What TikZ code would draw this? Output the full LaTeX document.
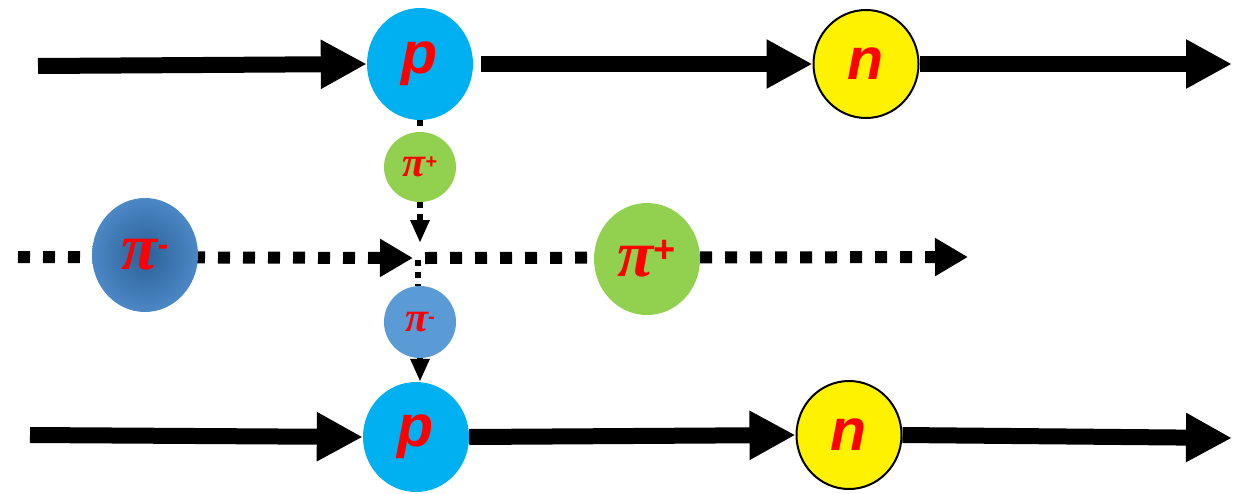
\documentclass[tikz,border=0pt]{standalone}
\usepackage{fontspec}
\setmainfont{Liberation Sans}
\newfontfamily\pifont{Liberation Serif}
\usetikzlibrary{arrows.meta,backgrounds,shapes.geometric}
\definecolor{pblue}{RGB}{0,176,240}
\definecolor{pigreen}{RGB}{146,208,80}
\definecolor{pismall}{RGB}{91,155,213}
\definecolor{piout}{RGB}{76,136,198}
\definecolor{piin}{RGB}{42,96,150}
\newcommand{\bigletter}[1]{\fontsize{59}{59}\selectfont\bfseries\itshape #1}
\newcommand{\pilab}[4]{{\fontsize{#1}{#1}\selectfont\pifont\bfseries\itshape π}\raisebox{#4}{\fontsize{#3}{#3}\selectfont\bfseries #2}}
\tikzset{
  ball/.style={ellipse,inner sep=0pt,text=red},
  solidarrow/.style={line width=16pt,-{Triangle[length=46pt,width=46pt]}},
  bigdots/.style={line width=12pt,dash pattern=on 12pt off 13pt},
  bigdotarrow/.style={bigdots,-{Triangle[length=33pt,width=36pt]}},
  smalldots/.style={line width=6pt,dash pattern=on 6pt off 6pt},
  smalldotarrow/.style={smalldots,-{Triangle[length=23pt,width=18pt]}}
}
\begin{document}
\begin{tikzpicture}[x=1pt,y=-1pt]
\useasboundingbox (0,0) rectangle (1233,493);
% nodes
\node[ball,fill=pblue,minimum width=106pt,minimum height=112pt] (p1) at (420,64) {\bigletter{p}};
\node[ball,fill=yellow,draw=black,line width=2pt,minimum width=105pt,minimum height=108pt] (n1) at (866,64) {\bigletter{n}};
\node[ball,fill=pblue,minimum width=106pt,minimum height=110pt] (p2) at (416,437) {\bigletter{p}};
\node[ball,fill=yellow,draw=black,line width=2pt,minimum width=105pt,minimum height=108pt] (n2) at (849,435) {\bigletter{n}};
\node[ball,fill=pigreen,minimum width=72pt,minimum height=70pt] (pis) at (420,167) {\pilab{42}{+}{20}{8pt}};
\node[ball,fill=pismall,minimum width=72pt,minimum height=72pt] (pim) at (420,322) {\pilab{42}{-}{20}{8pt}};
\node[ball,shading=radial,inner color=piin,outer color=piout,minimum width=106pt,minimum height=114pt] (pib) at (145,255) {\pilab{66}{-}{32}{14pt}};
\node[ball,fill=pigreen,minimum width=106pt,minimum height=112pt] (pig) at (647,259) {\pilab{66}{+}{38}{14pt}};
% free ends
\coordinate (s1) at (38,66);
\coordinate (e1) at (1232,64);
\coordinate (s2) at (30,435);
\coordinate (e2) at (1232,438);
\coordinate (h0) at (18,257);
\coordinate (hj) at (413,258);
\coordinate (h1) at (968,257);
\coordinate (vt) at (420,243);
\coordinate (vj) at (418,260);
% connectors
\begin{scope}[on background layer]
\draw[solidarrow] (s1) -- (p1.west);
\draw[solidarrow] ([xshift=8pt]p1.east) -- (n1.west);
\draw[solidarrow] (n1.east) -- (e1);
\draw[solidarrow] (s2) -- (p2.west);
\draw[solidarrow] (p2.east) -- (n2.west);
\draw[solidarrow] (n2.east) -- (e2);
\draw[bigdotarrow] (h0) -- (hj);
\draw[bigdotarrow] ([xshift=12pt]hj) -- (h1);
\draw[smalldots] (p1.south) -- (pis.north);
\draw[smalldotarrow] (pis.south) -- (vt);
\draw[smalldots] (vj) -- (vj |- pim.north);
\draw[smalldotarrow] (pim.south) -- (pim.south |- p2.north);
\end{scope}
\end{tikzpicture}
\end{document}
